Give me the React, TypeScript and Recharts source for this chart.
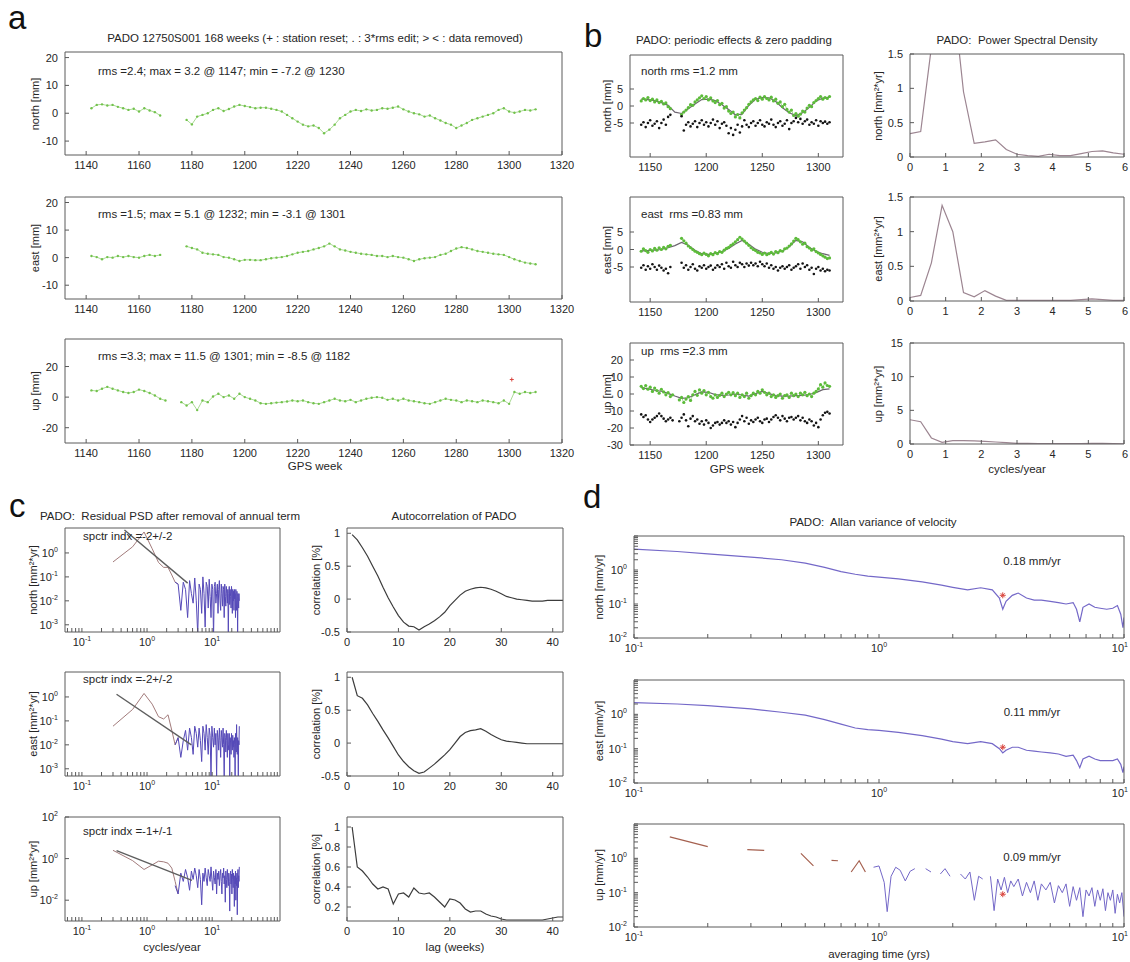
import React from 'react';
import { ComposedChart, Line, Scatter, XAxis, YAxis } from 'recharts';

// ---------- panel a: weekly residuals, every 2nd GPS week ----------
const weeks = [
  1142, 1144, 1146, 1148, 1150, 1152, 1154, 1156, 1158, 1160,
  1162, 1164, 1166, 1168, 1170, 1172, 1174, 1176, 1178, 1180,
  1182, 1184, 1186, 1188, 1190, 1192, 1194, 1196, 1198, 1200,
  1202, 1204, 1206, 1208, 1210, 1212, 1214, 1216, 1218, 1220,
  1222, 1224, 1226, 1228, 1230, 1232, 1234, 1236, 1238, 1240,
  1242, 1244, 1246, 1248, 1250, 1252, 1254, 1256, 1258, 1260,
  1262, 1264, 1266, 1268, 1270, 1272, 1274, 1276, 1278, 1280,
  1282, 1284, 1286, 1288, 1290, 1292, 1294, 1296, 1298, 1300,
  1302, 1304, 1306, 1308, 1310,
];
const northRes = [
  1.8, 3.0, 3.2, 2.8, 3.0, 2.3, 1.8, 1.2, 1.6, 0.6,
  1.8, 1.0, 0.4, -0.8, null, null, null, null, -2.4, -4.0,
  -1.2, -0.6, 0.0, 1.2, 1.8, 0.8, 1.5, 2.4, 3.0, 2.6,
  2.2, 1.8, 2.0, 2.0, 1.6, 1.2, 0.6, -0.6, -1.8, -3.0,
  -4.1, -4.7, -4.4, -5.3, -7.2, -5.9, -4.1, -1.8, -0.6, 0.6,
  1.2, 0.8, 1.4, 1.0, 1.2, 1.8, 1.6, 2.0, 2.4, 1.4,
  0.6, 0.0, -0.4, -1.2, -0.8, -1.8, -2.6, -3.5, -4.1, -5.3,
  -4.4, -3.5, -2.4, -1.8, -1.2, -0.6, 0.0, 1.2, 1.8, 0.6,
  0.2, 0.6, 1.2, 1.0, 1.4,
];
const eastRes = [
  0.6, 0.2, -0.6, 0.2, 0.0, 0.6, 0.2, 0.6, 0.2, 0.0,
  0.6, 1.0, 0.6, 1.0, null, null, null, null, 4.1, 3.5,
  3.0, 1.8, 1.4, 1.2, 1.0, 0.2, 0.0, -0.6, -1.2, -0.8,
  -0.8, -0.9, -0.9, -0.6, -0.2, 0.0, 0.2, 0.6, 1.2, 1.8,
  2.1, 2.4, 3.0, 3.5, 4.1, 5.1, 4.1, 3.0, 2.6, 2.1,
  1.8, 1.4, 1.2, 1.0, 0.6, 0.6, 0.2, 0.6, 0.2, 0.0,
  -0.6, -1.2, -0.6, -0.2, 0.0, 0.2, 1.0, 1.4, 2.4, 3.3,
  3.8, 3.5, 3.0, 2.4, 2.1, 1.8, 1.4, 1.2, 1.0, 0.2,
  -0.6, -1.2, -1.8, -2.1, -2.4,
];
const upRes = [
  4.4, 4.0, 5.5, 6.7, 5.5, 4.4, 3.3, 2.7, 3.3, 4.9,
  4.0, 2.7, 1.1, -1.1, -2.2, null, null, -3.3, -5.5, -3.3,
  -8.5, -2.2, -3.3, 0.4, 2.2, 0.0, 1.1, -1.1, 2.2, 0.0,
  -1.1, -2.2, -4.0, -4.4, -4.0, -3.6, -3.3, -2.9, -2.2, -2.7,
  -2.2, -3.3, -4.0, -4.4, -3.3, -2.2, -1.1, -2.2, -2.7, -1.8,
  -3.3, -2.2, -1.1, -0.4, 0.0, -0.4, -1.8, -1.1, -2.2, -1.1,
  -2.2, -2.7, -3.3, -4.0, -4.4, -3.3, -2.2, -1.1, -1.8, -2.2,
  -3.3, -2.2, -2.7, -3.3, -2.2, -2.7, -3.3, -4.0, -2.2, -4.4,
  3.3, 2.2, 3.3, 2.7, 3.3,
];
const resetWeek = [1301];
const resetUp = [11.5];

// ---------- panel b: periodic fit, filtered data, residuals, PSD ----------
const modelWeeks = [
  1142, 1148, 1154, 1160, 1166, 1172, 1178, 1184, 1190, 1196,
  1202, 1208, 1214, 1220, 1226, 1232, 1238, 1244, 1250, 1256,
  1262, 1268, 1274, 1280, 1286, 1292, 1298, 1304, 1310,
];
const northModel = [2.0, 1.9, 1.6, 1.0, 0.2, -1.8, -2.2, -0.8, 0.6, 1.9, 2.0, 1.6, 0.4, -1.0, -2.6, -2.4, 0.2, 2.0, 2.5, 2.4, 1.3, -0.5, -2.0, -2.8, -2.0, -0.4, 1.5, 2.3, 2.6];
const eastModel = [-0.4, -0.3, -0.2, 0.0, 0.5, 1.1, 2.0, 1.2, -0.2, -1.2, -1.4, -1.1, -0.6, 0.3, 1.6, 2.6, 1.5, 0.1, -0.8, -1.2, -1.0, -0.4, 0.8, 2.6, 2.2, 0.6, -0.5, -1.2, -1.7];
const upModel = [3.8, 3.0, 2.2, 1.6, 0.4, -1.2, -2.6, -2.2, -0.4, 1.2, 1.0, -0.4, -0.8, -0.6, 0.0, -0.6, -1.2, 0.2, 1.5, 0.2, -0.9, -1.2, -1.2, -1.0, -0.8, -0.3, 0.8, 2.6, 3.0];

const northFilt = [
  1.5, 2.2, 1.8, 2.5, 1.6, 2.0, 1.2, 1.8, 1.0, 1.4,
  0.6, 0.9, -0.2, -0.8, null, null, null, null, -2.5, -1.8,
  -1.2, -0.5, 0.4, 0.2, 1.2, 1.8, 2.4, 3.0, 2.2, 2.8,
  1.8, 2.4, 1.5, 1.0, 1.6, 0.4, 0.8, -0.6, -0.2, -1.5,
  -2.2, -1.8, -3.2, -2.5, -3.5, -2.0, -1.2, -0.5, 0.5, 1.2,
  1.8, 2.2, 1.6, 2.6, 2.0, 2.8, 2.2, 1.8, 2.6, 1.5,
  2.0, 0.8, 1.2, -0.2, 0.5, -1.0, -1.8, -1.2, -2.8, -2.2,
  -3.0, -2.4, -1.5, -1.8, -0.6, 0.2, -0.2, 1.0, 1.6, 2.2,
  2.8, 2.0, 2.5, 2.2, 2.8,
];
const eastFilt = [
  -0.5, 0.2, -0.3, -0.8, 0.0, -0.4, 0.3, -0.2, 0.5, 0.0,
  0.6, 0.2, 0.9, 1.2, null, null, null, null, 3.2, 2.5,
  1.8, 1.0, 0.5, 0.0, -0.5, -0.8, -1.2, -1.5, -1.0, -1.4,
  -1.8, -1.2, -1.5, -0.9, -1.2, -0.6, -0.8, -0.2, 0.3, 0.6,
  1.2, 1.6, 2.2, 2.8, 3.5, 3.0, 2.4, 1.8, 1.2, 0.5,
  0.0, -0.3, -0.8, -1.0, -1.4, -1.0, -1.5, -1.2, -0.8, -1.3,
  -0.6, -0.9, -0.3, -0.5, 0.2, 0.4, 1.0, 1.6, 2.4, 3.2,
  2.8, 2.2, 1.5, 1.8, 0.8, 0.4, -0.2, 0.2, -0.6, -1.0,
  -1.4, -1.8, -2.2, -2.6, -2.4,
];
const upFilt = [
  4.5, 3.2, 5.0, 2.8, 4.0, 1.5, 3.5, 2.0, 0.5, 2.8,
  1.2, -0.5, 0.8, -1.5, -0.5, null, null, -3.5, -2.0, -5.0,
  -3.0, -1.5, -3.8, -0.5, 1.5, -0.8, 2.5, 0.5, 2.0, -0.5,
  1.0, -1.5, -2.5, -0.5, -2.0, -0.8, 0.5, -1.5, 0.0, 1.0,
  -0.5, 0.8, -1.0, 0.5, -2.0, -0.5, -1.5, 0.5, -2.5, -1.0,
  0.5, -0.5, 1.5, 0.5, 2.5, 1.0, -0.5, 0.5, -1.5, -0.5,
  -2.0, -1.0, 0.0, -2.5, -1.0, -0.5, -2.0, 0.5, -1.0, 0.0,
  -1.5, 0.5, -0.5, 1.0, -1.0, 0.0, -1.5, 0.5, 1.5, 3.0,
  5.5, 4.0, 6.5, 5.0, 4.5,
];
const northResid = [
  -5.5, -4.8, -6.2, -5.0, -4.2, -5.8, -5.2, -4.5, -6.5, -5.0,
  -4.0, -5.5, -3.2, -2.6, null, null, null, null, -3.0, -7.2,
  -5.5, -4.8, -6.0, -5.2, -4.5, -6.2, -5.0, -4.2, -5.5, -4.8,
  -6.0, -5.0, -4.0, -5.5, -4.5, -6.5, -5.2, -4.8, -5.8, -8.0,
  -6.5, -8.5, -7.0, -5.5, -7.8, -6.0, -4.2, -5.5, -6.2, -5.0,
  -4.5, -5.8, -5.0, -4.2, -5.5, -6.0, -4.8, -5.2, -4.0, -5.5,
  -6.2, -5.0, -4.5, -5.8, -5.2, -4.2, -6.8, -5.0, -4.5, -3.5,
  -4.8, -3.8, -5.2, -4.5, -4.0, -5.5, -4.8, -5.2, -4.2, -5.8,
  -4.5, -5.0, -4.6, -5.2, -4.8,
];
const eastResid = [
  -5.2, -4.5, -5.8, -4.8, -5.5, -4.2, -5.0, -5.8, -4.6, -5.2,
  -6.0, -5.5, -6.8, -5.0, null, null, null, null, -3.8, -5.2,
  -4.5, -5.8, -5.0, -4.2, -5.5, -6.0, -4.8, -5.2, -4.5, -5.5,
  -5.0, -4.6, -5.8, -5.2, -4.5, -5.0, -4.2, -5.5, -3.8, -4.8,
  -5.2, -3.5, -4.5, -5.0, -3.8, -4.2, -5.0, -4.0, -4.6, -3.8,
  -4.5, -4.0, -4.8, -3.5, -4.2, -4.8, -4.0, -5.2, -4.5, -5.5,
  -5.0, -6.0, -5.2, -4.8, -5.5, -5.0, -4.5, -5.8, -5.2, -4.8,
  -4.2, -5.5, -4.0, -5.0, -4.5, -5.8, -5.2, -7.0, -5.5, -5.0,
  -6.0, -5.5, -6.2, -5.8, -6.0,
];
const upResid = [
  -12, -13.5, -12.5, -15, -16.5, -15, -14, -13, -11.5, -13,
  -14.5, -16, -15, -14, -15.5, null, null, -16, -14, -12,
  -15.5, -19, -14.5, -13, -16, -15, -17.5, -16, -18, -15.5,
  -17, -20, -18.5, -17, -16.5, -18, -17, -15.5, -17, -16,
  -18, -16.5, -19.5, -17, -15, -13, -16, -14, -17.5, -15.5,
  -16.5, -15, -14, -16, -17, -15, -14.5, -16.5, -15, -13.5,
  -12.5, -14, -15.5, -13, -14.5, -16, -14, -13.5, -15, -14,
  -13, -15.5, -14, -16, -17, -15, -16, -18.5, -17, -19.5,
  -15, -12.5, -11, -10.5, -11.5,
];

const psdFreq = [0, 0.3, 0.6, 0.9, 1.2, 1.5, 1.8, 2.1, 2.4, 2.7, 3.0, 3.3, 3.6, 3.9, 4.2, 4.5, 4.8, 5.1, 5.4, 5.7, 6.0];
const northPsd = [0.34, 0.37, 1.6, 2.6, 2.4, 0.95, 0.2, 0.22, 0.25, 0.11, 0.04, 0.02, 0.01, 0.04, 0.02, 0.02, 0.05, 0.08, 0.09, 0.06, 0.04];
const eastPsd = [0.05, 0.08, 0.55, 1.38, 1.0, 0.12, 0.06, 0.15, 0.07, 0.01, 0.01, 0.01, 0.01, 0.01, 0.01, 0.01, 0.02, 0.03, 0.02, 0.01, 0.01];
const upPsd = [3.6, 3.3, 0.9, 0.25, 0.5, 0.5, 0.45, 0.4, 0.3, 0.2, 0.1, 0.08, 0.06, 0.05, 0.05, 0.05, 0.05, 0.1, 0.08, 0.05, 0.03];

// ---------- panel c: residual spectra and autocorrelation ----------
const specLowFreq = [0.3, 0.6, 0.9, 1.2, 1.5, 1.8, 2.1, 2.4, 2.7, 3.0];
const specHighFreq = [
  2.7, 3.0, 3.3, 3.6, 3.9, 4.2, 4.5, 4.8, 5.1, 5.4,
  5.7, 6.0, 6.3, 6.6, 6.9, 7.2, 7.5, 7.8, 8.1, 8.4,
  8.7, 9.0, 9.3, 9.6, 9.9, 10.2, 10.5, 10.8, 11.1, 11.4,
  11.7, 12.0, 12.3, 12.6, 12.9, 13.2, 13.5, 13.8, 14.1, 14.4,
  14.7, 15.0, 15.3, 15.6, 15.9, 16.2, 16.5, 16.8, 17.1, 17.4,
  17.7, 18.0, 18.3, 18.6, 18.9, 19.2, 19.5, 19.8, 20.1, 20.4,
  20.7, 21.0, 21.3, 21.6, 21.9, 22.2, 22.5, 22.8, 23.1, 23.4,
  23.7, 24.0, 24.3, 24.6, 24.9, 25.2, 25.5, 25.8, 26.1,
];
const northSpecLow = [0.42, 1.8, 7.5, 1.5, 0.4, 0.25, 0.25, 0.12, 0.06, 0.05];
const northSpecHigh = [
  0.06, 0.05, 0.004, 0.06, 0.03, 0.002, 0.07, 0.02, 0.008, 0.09,
  0.01, 0.0004, 0.05, 0.03, 0.003, 0.1, 0.02, 0.0008, 0.06, 0.04,
  0.005, 0.08, 0.015, 0.002, 0.05, 0.03, 0.0003, 0.04, 0.06, 0.008,
  0.02, 0.05, 0.003, 0.03, 0.07, 0.01, 0.004, 0.05, 0.02, 0.006,
  0.04, 0.03, 0.002, 0.05, 0.015, 0.006, 0.04, 0.02, 0.008, 0.03,
  0.0004, 0.02, 0.04, 0.007, 0.03, 0.015, 0.005, 0.04, 0.02, 0.003,
  0.03, 0.01, 0.025, 0.004, 0.03, 0.012, 0.02, 0.002, 0.03, 0.01,
  0.004, 0.025, 0.015, 0.0003, 0.02, 0.01, 0.005, 0.02, 0.01,
];
const eastSpecLow = [0.06, 0.3, 1.4, 0.5, 0.15, 0.12, 0.18, 0.04, 0.01, 0.02];
const eastSpecHigh = [
  0.01, 0.02, 0.003, 0.015, 0.04, 0.006, 0.05, 0.02, 0.004, 0.06,
  0.03, 0.008, 0.05, 0.015, 0.002, 0.06, 0.03, 0.006, 0.07, 0.02,
  0.004, 0.05, 0.025, 0.0004, 0.06, 0.02, 0.008, 0.05, 0.01, 0.03,
  0.0005, 0.04, 0.02, 0.006, 0.05, 0.015, 0.003, 0.04, 0.02, 0.008,
  0.05, 0.01, 0.0004, 0.03, 0.02, 0.005, 0.04, 0.015, 0.003, 0.03,
  0.01, 0.006, 0.03, 0.0005, 0.02, 0.012, 0.004, 0.03, 0.01, 0.006,
  0.025, 0.008, 0.015, 0.003, 0.02, 0.01, 0.0004, 0.03, 0.012, 0.005,
  0.07, 0.01, 0.004, 0.02, 0.008, 0.0003, 0.015, 0.01, 0.06,
];
const upSpecLow = [2.5, 0.8, 0.3, 0.5, 0.75, 0.7, 0.6, 0.35, 0.08, 0.02];
const upSpecHigh = [
  0.05, 0.02, 0.2, 0.08, 0.3, 0.12, 0.03, 0.25, 0.1, 0.35,
  0.15, 0.04, 0.3, 0.1, 0.006, 0.2, 0.08, 0.35, 0.12, 0.05,
  0.3, 0.15, 0.08, 0.4, 0.1, 0.03, 0.25, 0.12, 0.06, 0.3,
  0.02, 0.2, 0.1, 0.25, 0.05, 0.15, 0.3, 0.08, 0.02, 0.2,
  0.12, 0.35, 0.06, 0.15, 0.008, 0.25, 0.1, 0.04, 0.3, 0.12,
  0.05, 0.2, 0.08, 0.003, 0.15, 0.25, 0.06, 0.18, 0.02, 0.3,
  0.1, 0.04, 0.2, 0.08, 0.005, 0.15, 0.06, 0.25, 0.01, 0.12,
  0.05, 0.2, 0.002, 0.1, 0.3, 0.04, 0.15, 0.08, 0.4,
];
const northFitF = [0.45, 4.2];
const northFitV = [9, 0.055];
const eastFitF = [0.34, 4.8];
const eastFitV = [1.3, 0.01];
const upFitF = [0.34, 4.9];
const upFitV = [2.4, 0.09];

const lags = [
  1, 2, 3, 4, 5, 6, 7, 8, 9, 10, 11, 12, 13, 14, 15, 16, 17, 18, 19, 20, 21,
  22, 23, 24, 25, 26, 27, 28, 29, 30, 31, 32, 33, 34, 35, 36, 37, 38, 39, 40, 41, 42,
];
const northAcf = [0.98, 0.9, 0.78, 0.65, 0.5, 0.35, 0.18, 0.02, -0.12, -0.25, -0.35, -0.41, -0.42, -0.47, -0.42, -0.38, -0.33, -0.27, -0.2, -0.1, -0.02, 0.06, 0.12, 0.15, 0.17, 0.18, 0.17, 0.15, 0.12, 0.08, 0.04, 0.02, 0.0, -0.01, -0.02, -0.03, -0.03, -0.03, -0.02, -0.02, -0.02, -0.02];
const eastAcf = [1.0, 0.72, 0.68, 0.58, 0.45, 0.33, 0.2, 0.08, -0.05, -0.18, -0.28, -0.36, -0.42, -0.46, -0.44, -0.38, -0.32, -0.25, -0.18, -0.1, 0.0, 0.1, 0.16, 0.19, 0.2, 0.22, 0.18, 0.13, 0.09, 0.05, 0.03, 0.02, 0.01, 0.0, -0.01, -0.01, -0.01, -0.01, -0.01, -0.01, -0.01, -0.01];
const upAcf = [1.0, 0.6, 0.56, 0.5, 0.43, 0.38, 0.4, 0.38, 0.23, 0.33, 0.34, 0.3, 0.39, 0.34, 0.33, 0.34, 0.3, 0.25, 0.2, 0.28, 0.27, 0.24, 0.18, 0.15, 0.16, 0.16, 0.13, 0.11, 0.1, 0.08, 0.07, 0.07, 0.07, 0.07, 0.07, 0.07, 0.07, 0.07, 0.08, 0.09, 0.1, 0.1];

// ---------- panel d: Allan variance of velocity ----------
const avgTime = [0.1, 0.15, 0.2, 0.3, 0.4, 0.5, 0.6, 0.7, 0.8, 0.9, 1.0, 1.2, 1.5, 1.8, 2.0, 2.3, 2.6, 2.9, 3.1, 3.2, 3.3, 3.5, 3.7, 4.0, 4.3, 4.6, 5.0, 5.4, 5.8, 6.2, 6.4, 6.6, 6.8, 7.2, 7.6, 8.0, 8.5, 9.0, 9.4, 9.7, 9.9, 10];
const northAllan = [4.1, 3.5, 3.0, 2.4, 2.0, 1.6, 1.2, 0.9, 0.75, 0.66, 0.62, 0.55, 0.45, 0.36, 0.31, 0.26, 0.3, 0.26, 0.15, 0.07, 0.12, 0.18, 0.21, 0.15, 0.13, 0.13, 0.12, 0.11, 0.1, 0.11, 0.07, 0.03, 0.08, 0.1, 0.08, 0.075, 0.07, 0.075, 0.09, 0.05, 0.02, 0.04];
const eastAllan = [2.2, 2.0, 1.8, 1.45, 1.15, 0.95, 0.7, 0.52, 0.4, 0.36, 0.34, 0.3, 0.24, 0.19, 0.16, 0.14, 0.16, 0.14, 0.1, 0.075, 0.09, 0.11, 0.11, 0.09, 0.085, 0.08, 0.075, 0.07, 0.06, 0.065, 0.045, 0.028, 0.05, 0.06, 0.05, 0.045, 0.045, 0.045, 0.05, 0.035, 0.02, 0.03];
const upLowTime = [0.14, 0.2, 0.25, 0.29, 0.34, 0.4, 0.48, 0.54, 0.6, 0.64, 0.68, 0.73, 0.77, 0.83, 0.88];
const upLowAllan = [4.2, 2.2, null, 1.8, 1.7, null, 1.4, 0.6, null, 0.87, 0.85, null, 0.4, 0.85, 0.4];
const upHighTime = [
  0.95, 1.0, 1.05, 1.08, 1.12, 1.17, 1.22, 1.28, 1.34, 1.4, 1.48, 1.55, 1.63, 1.7, 1.78, 1.86, 1.95,
  2.05, 2.15, 2.25, 2.35, 2.45, 2.55, 2.65, 2.75, 2.85, 2.95, 3.05, 3.15, 3.25, 3.35, 3.45, 3.55,
  3.7, 3.85, 4.0, 4.15, 4.3, 4.45, 4.6, 4.8, 5.0, 5.2, 5.4, 5.6, 5.8, 6.0, 6.2, 6.4, 6.6, 6.8,
  7.0, 7.2, 7.4, 7.6, 7.8, 8.0, 8.2, 8.4, 8.6, 8.8, 9.0, 9.2, 9.4, 9.6, 9.8, 10.0,
];
const upHighAllan = [
  0.55, 0.6, 0.2, 0.028, 0.3, 0.55, 0.45, 0.22, 0.42, 0.5, null, 0.5, 0.4, null, 0.35, 0.5, 0.3,
  null, 0.35, 0.25, 0.4, 0.06, 0.3, 0.25, null, 0.3, 0.03, 0.25, 0.12, 0.28, 0.1, 0.22, 0.15,
  0.25, 0.08, 0.2, 0.1, 0.22, 0.06, 0.18, 0.12, 0.2, 0.05, 0.16, 0.1, 0.18, 0.04, 0.15, 0.06, 0.14, 0.02,
  0.12, 0.08, 0.14, 0.04, 0.12, 0.06, 0.13, 0.03, 0.1, 0.06, 0.12, 0.025, 0.09, 0.05, 0.1, 0.02,
];
const rateTime = [3.2];
const northRate = [0.18];
const eastRate = [0.11];
const upRate = [0.09];

// log-axis tick marks, and the subset of them that carry a label
const specTicksX = [0.06, 0.07, 0.08, 0.09, 0.1, 0.2, 0.3, 0.4, 0.5, 0.6, 0.7, 0.8, 0.9, 1, 2, 3, 4, 5, 6, 7, 8, 9, 10, 20, 30, 40, 50, 60, 70, 80, 90, 100];
const specLabelsX = [0.1, 1, 10];
const allanTicksX = [0.1, 0.2, 0.3, 0.4, 0.5, 0.6, 0.7, 0.8, 0.9, 1, 2, 3, 4, 5, 6, 7, 8, 9, 10];
const allanLabelsX = [0.1, 1, 10];
const allanTicksY = [0.01, 0.02, 0.03, 0.04, 0.05, 0.06, 0.07, 0.08, 0.09, 0.1, 0.2, 0.3, 0.4, 0.5, 0.6, 0.7, 0.8, 0.9, 1, 2, 3, 4, 5, 6, 7, 8, 9, 10];
const allanLabelsY = [0.01, 0.1, 1];

// ---------- drawing ----------
const FONT = '"Liberation Sans", Arial, Helvetica, sans-serif';
const TXT = '#262626';
const FRAME = '#5a5a5a';
const YW = 44;
const XH = 24;
const MT = 10;
const MR = 18;
const PAGE_W = 1130;

type Pt = { x: number; y: number | null };
const zip = (xs: number[], ys: (number | null)[]): Pt[] => xs.map((x, i) => ({ x, y: ys[i] ?? null }));

type Series = {
  data: Pt[];
  color: string;
  width?: number;
  opacity?: number;
  dot?: number;
  noLine?: boolean;
  mark?: 'plus' | 'star';
};

const hasLabel = (v: number, labels?: number[]) => !labels || labels.some((l) => Math.abs(l - v) < 1e-9 * Math.max(1, Math.abs(l)));

function TickText({ x, y, dy, anchor, v, log, labels }: any) {
  if (!hasLabel(v, labels)) return <g />;
  return (
    <text x={x} y={y} dy={dy} textAnchor={anchor} fontFamily={FONT} fontSize={11} fill={TXT}>
      {log ? (
        <>
          <tspan>10</tspan>
          <tspan dy={-5} fontSize={7}>{Math.round(Math.log10(v))}</tspan>
        </>
      ) : (
        String(v)
      )}
    </text>
  );
}

function Mark({ cx, cy, kind, color }: any) {
  if (cx == null || cy == null) return null;
  if (kind === 'plus') {
    return (
      <g stroke={color} strokeWidth={1}>
        <line x1={cx - 2} y1={cy} x2={cx + 2} y2={cy} />
        <line x1={cx} y1={cy - 2} x2={cx} y2={cy + 2} />
      </g>
    );
  }
  return (
    <g stroke={color} strokeWidth={1}>
      <line x1={cx - 3} y1={cy} x2={cx + 3} y2={cy} />
      <line x1={cx} y1={cy - 3} x2={cx} y2={cy + 3} />
      <line x1={cx - 2} y1={cy - 2} x2={cx + 2} y2={cy + 2} />
      <line x1={cx - 2} y1={cy + 2} x2={cx + 2} y2={cy - 2} />
    </g>
  );
}

interface PlotProps {
  box: [number, number, number, number];
  xDomain: [number, number];
  yDomain: [number, number];
  xTicks: number[];
  yTicks: number[];
  xLabels?: number[];
  yLabels?: number[];
  xLog?: boolean;
  yLog?: boolean;
  series: Series[];
}

function Plot({ box, xDomain, yDomain, xTicks, yTicks, xLabels, yLabels, xLog, yLog, series }: PlotProps) {
  const [l, t, r, b] = box;
  const xs = xLog ? 'log' : 'linear';
  const ys = yLog ? 'log' : 'linear';
  const chartLeft = l - YW;
  // keep the last x label inside the page when the plot reaches the right edge
  const xTick = (p: any) => {
    const nearEdge = chartLeft + p.x + 12 > PAGE_W;
    return (
      <TickText x={nearEdge ? p.x + 4 : p.x} y={p.y} dy={9} anchor={nearEdge ? 'end' : 'middle'}
        v={p.payload.value} log={xLog} labels={xLabels} />
    );
  };
  return (
    <div style={{ position: 'absolute', left: chartLeft, top: t - MT }}>
      <ComposedChart
        width={YW + (r - l) + MR}
        height={MT + (b - t) + XH}
        margin={{ top: MT, right: MR, bottom: 0, left: 0 }}
      >
        <XAxis
          xAxisId="x" dataKey="x" type="number" scale={xs} domain={xDomain} allowDataOverflow
          ticks={xTicks} interval={0} height={XH} stroke={FRAME} tickSize={-4} tickMargin={9} tick={xTick}
        />
        <XAxis
          xAxisId="t" dataKey="x" type="number" scale={xs} domain={xDomain} allowDataOverflow
          ticks={xTicks} interval={0} orientation="top" mirror stroke={FRAME} tickSize={4} tick={false}
        />
        <YAxis
          yAxisId="y" type="number" scale={ys} domain={yDomain} allowDataOverflow
          ticks={yTicks} interval={0} width={YW} stroke={FRAME} tickSize={-4} tickMargin={11}
          tick={(p: any) => <TickText x={p.x} y={p.y} dy={4} anchor="end" v={p.payload.value} log={yLog} labels={yLabels} />}
        />
        <YAxis
          yAxisId="r" type="number" scale={ys} domain={yDomain} allowDataOverflow
          ticks={yTicks} interval={0} orientation="right" mirror stroke={FRAME} tickSize={4} tick={false}
        />
        {series.map((s, i) =>
          s.mark ? (
            <Scatter
              key={i} xAxisId="x" yAxisId="y" data={s.data} dataKey="y" isAnimationActive={false}
              shape={(p: any) => <Mark cx={p.cx} cy={p.cy} kind={s.mark} color={s.color} />}
            />
          ) : (
            <Line
              key={i} xAxisId="x" yAxisId="y" data={s.data} dataKey="y" type="linear"
              stroke={s.noLine ? 'none' : s.color} strokeWidth={s.width ?? 1} strokeOpacity={s.opacity ?? 1}
              dot={s.dot ? { r: s.dot, fill: s.color, stroke: 'none', strokeWidth: 0 } : false}
              activeDot={false} isAnimationActive={false}
            />
          ),
        )}
      </ComposedChart>
    </div>
  );
}

function Txt({ x, y, children, anchor = 'middle', rotate = false, size = 11.5 }: any) {
  const tx = anchor === 'middle' ? '-50%' : '0';
  return (
    <div
      style={{
        position: 'absolute', left: x, top: y, transform: `translate(${tx}, -50%)${rotate ? ' rotate(-90deg)' : ''}`,
        whiteSpace: 'pre', fontSize: size, lineHeight: 1, color: TXT, fontFamily: FONT,
      }}
    >
      {children}
    </div>
  );
}

function Letter({ x, y, children }: any) {
  return (
    <div style={{ position: 'absolute', left: x, top: y, fontSize: 33, lineHeight: 1, color: '#111', fontFamily: FONT }}>
      {children}
    </div>
  );
}

const GREEN_A = '#72c24c';
const GREEN_B = '#5cbb3a';
const BLACK = '#141414';
const MODEL = '#6d6570';
const PSD = '#9c8591';
const SPEC_LOW = '#a27b7b';
const SPEC_HIGH = '#5549b8';
const FIT = '#5e5e5e';
const ACF = '#3c3c3c';
const ALLAN = '#7468c8';
const ALLAN_LOW = '#a5604f';
const RED = '#d9463f';

const aX = { xDomain: [1132, 1320] as [number, number], xTicks: [1140, 1160, 1180, 1200, 1220, 1240, 1260, 1280, 1300, 1320] };
const bX = { xDomain: [1132, 1322] as [number, number], xTicks: [1150, 1200, 1250, 1300] };
const psdX = { xDomain: [0, 6] as [number, number], xTicks: [0, 1, 2, 3, 4, 5, 6] };
const specX = { xDomain: [0.055, 110] as [number, number], xTicks: specTicksX, xLabels: specLabelsX, xLog: true };
const acfX = { xDomain: [0, 42] as [number, number], xTicks: [0, 10, 20, 30, 40] };
const allanX = { xDomain: [0.1, 10] as [number, number], xTicks: allanTicksX, xLabels: allanLabelsX, xLog: true };
const allanY = { yDomain: [0.01, 10] as [number, number], yTicks: allanTicksY, yLabels: allanLabelsY, yLog: true };

const aSeries = (vals: (number | null)[]): Series => ({ data: zip(weeks, vals), color: GREEN_A, width: 1, opacity: 0.6, dot: 1.2 });

const bSeries = (filt: (number | null)[], resid: (number | null)[], model: number[]): Series[] => [
  { data: zip(weeks, filt), color: GREEN_B, width: 1, opacity: 0.55, dot: 1.6 },
  { data: zip(weeks, resid), color: BLACK, noLine: true, dot: 1.3 },
  { data: zip(modelWeeks, model), color: MODEL, width: 1.2 },
];

const specSeries = (low: number[], high: number[], fitF: number[], fitV: number[]): Series[] => [
  { data: zip(specLowFreq, low), color: SPEC_LOW, width: 1 },
  { data: zip(specHighFreq, high), color: SPEC_HIGH, width: 1 },
  { data: zip(fitF, fitV), color: FIT, width: 1.4 },
];

export default function App() {
  return (
    <div style={{ position: 'absolute', left: 0, top: 0, width: 1130, height: 962, background: '#fff', overflow: 'hidden', fontFamily: FONT }}>
      {/* panel a */}
      <Plot box={[65, 52, 562, 155]} {...aX} yDomain={[-15, 22]} yTicks={[-10, 0, 10, 20]} series={[aSeries(northRes)]} />
      <Plot box={[65, 197, 562, 299]} {...aX} yDomain={[-15, 22]} yTicks={[-10, 0, 10, 20]} series={[aSeries(eastRes)]} />
      <Plot box={[65, 339, 562, 443]} {...aX} yDomain={[-30, 38]} yTicks={[-20, 0, 20]}
        series={[aSeries(upRes), { data: zip(resetWeek, resetUp), color: RED, mark: 'plus' }]} />

      {/* panel b */}
      <Plot box={[630, 55, 843, 157]} {...bX} yDomain={[-15, 15]} yTicks={[-5, 0, 5]} series={bSeries(northFilt, northResid, northModel)} />
      <Plot box={[630, 197, 843, 302]} {...bX} yDomain={[-15, 15]} yTicks={[-5, 0, 5]} series={bSeries(eastFilt, eastResid, eastModel)} />
      <Plot box={[630, 343, 843, 445]} {...bX} yDomain={[-30, 30]} yTicks={[-30, -20, -10, 0, 10, 20]} series={bSeries(upFilt, upResid, upModel)} />
      <Plot box={[910, 54, 1124, 157]} {...psdX} yDomain={[0, 1.5]} yTicks={[0, 0.5, 1, 1.5]}
        series={[{ data: zip(psdFreq, northPsd), color: PSD, width: 1.2 }]} />
      <Plot box={[910, 197, 1124, 301]} {...psdX} yDomain={[0, 1.5]} yTicks={[0, 0.5, 1, 1.5]}
        series={[{ data: zip(psdFreq, eastPsd), color: PSD, width: 1.2 }]} />
      <Plot box={[910, 343, 1124, 444]} {...psdX} yDomain={[0, 15]} yTicks={[0, 5, 10, 15]}
        series={[{ data: zip(psdFreq, upPsd), color: PSD, width: 1.2 }]} />

      {/* panel c */}
      <Plot box={[65, 528, 280, 632]} {...specX} yDomain={[0.0005, 11]} yTicks={[0.001, 0.01, 0.1, 1]} yLog
        series={specSeries(northSpecLow, northSpecHigh, northFitF, northFitV)} />
      <Plot box={[65, 672, 280, 776]} {...specX} yDomain={[0.0005, 11]} yTicks={[0.001, 0.01, 0.1, 1]} yLog
        series={specSeries(eastSpecLow, eastSpecHigh, eastFitF, eastFitV)} />
      <Plot box={[65, 817, 280, 921]} {...specX} yDomain={[0.001, 100]} yTicks={[0.01, 1, 100]} yLog
        series={specSeries(upSpecLow, upSpecHigh, upFitF, upFitV)} />
      <Plot box={[347, 528, 563, 632]} {...acfX} yDomain={[-0.5, 1.08]} yTicks={[-0.5, 0, 0.5, 1]}
        series={[{ data: zip(lags, northAcf), color: ACF, width: 1.2 }]} />
      <Plot box={[347, 672, 563, 776]} {...acfX} yDomain={[-0.5, 1.08]} yTicks={[-0.5, 0, 0.5, 1]}
        series={[{ data: zip(lags, eastAcf), color: ACF, width: 1.2 }]} />
      <Plot box={[347, 817, 563, 921]} {...acfX} yDomain={[0.06, 1.1]} yTicks={[0.2, 0.4, 0.6, 0.8, 1]}
        series={[{ data: zip(lags, upAcf), color: ACF, width: 1.2 }]} />

      {/* panel d */}
      <Plot box={[634, 536, 1124, 638]} {...allanX} {...allanY}
        series={[{ data: zip(avgTime, northAllan), color: ALLAN, width: 1.2 }, { data: zip(rateTime, northRate), color: RED, mark: 'star' }]} />
      <Plot box={[634, 680, 1124, 783]} {...allanX} {...allanY}
        series={[{ data: zip(avgTime, eastAllan), color: ALLAN, width: 1.2 }, { data: zip(rateTime, eastRate), color: RED, mark: 'star' }]} />
      <Plot box={[634, 824, 1124, 927]} {...allanX} {...allanY}
        series={[
          { data: zip(upLowTime, upLowAllan), color: ALLAN_LOW, width: 1.2 },
          { data: zip(upHighTime, upHighAllan), color: ALLAN, width: 1 },
          { data: zip(rateTime, upRate), color: RED, mark: 'star' },
        ]} />

      {/* letters and titles */}
      <Letter x={8} y={1}>a</Letter>
      <Letter x={584} y={19}>b</Letter>
      <Letter x={9} y={489}>c</Letter>
      <Letter x={583} y={480}>d</Letter>

      <Txt x={315} y={39}>PADO 12750S001 168 weeks (+ : station reset; . : 3*rms edit; &gt; &lt; : data removed)</Txt>
      <Txt x={734} y={41}>PADO: periodic effects &amp; zero padding</Txt>
      <Txt x={1017} y={41}>PADO:  Power Spectral Density</Txt>
      <Txt x={170} y={517}>PADO:  Residual PSD after removal of annual term</Txt>
      <Txt x={454} y={517}>Autocorrelation of PADO</Txt>
      <Txt x={873} y={523}>PADO:  Allan variance of velocity</Txt>

      {/* annotations */}
      <Txt x={98} y={72} anchor="start">rms =2.4; max = 3.2 @ 1147; min = -7.2 @ 1230</Txt>
      <Txt x={98} y={215} anchor="start">rms =1.5; max = 5.1 @ 1232; min = -3.1 @ 1301</Txt>
      <Txt x={98} y={357} anchor="start">rms =3.3; max = 11.5 @ 1301; min = -8.5 @ 1182</Txt>
      <Txt x={641} y={72} anchor="start">north rms =1.2 mm</Txt>
      <Txt x={641} y={215} anchor="start">east  rms =0.83 mm</Txt>
      <Txt x={641} y={352} anchor="start">up  rms =2.3 mm</Txt>
      <Txt x={83} y={537} anchor="start">spctr indx =-2+/-2</Txt>
      <Txt x={83} y={680} anchor="start">spctr indx =-2+/-2</Txt>
      <Txt x={83} y={832} anchor="start">spctr indx =-1+/-1</Txt>
      <Txt x={1032} y={562}>0.18 mm/yr</Txt>
      <Txt x={1032} y={713}>0.11 mm/yr</Txt>
      <Txt x={1032} y={858}>0.09 mm/yr</Txt>

      {/* axis labels */}
      <Txt x={315} y={467}>GPS week</Txt>
      <Txt x={737} y={470}>GPS week</Txt>
      <Txt x={1017} y={470}>cycles/year</Txt>
      <Txt x={172} y={948}>cycles/year</Txt>
      <Txt x={455} y={948}>lag (weeks)</Txt>
      <Txt x={879} y={955}>averaging time (yrs)</Txt>

      <Txt x={35} y={104} rotate size={11}>north [mm]</Txt>
      <Txt x={35} y={248} rotate size={11}>east [mm]</Txt>
      <Txt x={35} y={391} rotate size={11}>up [mm]</Txt>
      <Txt x={607} y={106} rotate size={11}>north [mm]</Txt>
      <Txt x={607} y={250} rotate size={11}>east [mm]</Txt>
      <Txt x={607} y={394} rotate size={11}>up [mm]</Txt>
      <Txt x={878} y={106} rotate size={11}>north [mm²*yr]</Txt>
      <Txt x={878} y={249} rotate size={11}>east [mm²*yr]</Txt>
      <Txt x={878} y={394} rotate size={11}>up [mm²*yr]</Txt>
      <Txt x={33} y={580} rotate size={11}>north [mm²*yr]</Txt>
      <Txt x={33} y={724} rotate size={11}>east [mm²*yr]</Txt>
      <Txt x={33} y={869} rotate size={11}>up [mm²*yr]</Txt>
      <Txt x={316} y={580} rotate size={11}>correlation [%]</Txt>
      <Txt x={316} y={724} rotate size={11}>correlation [%]</Txt>
      <Txt x={316} y={869} rotate size={11}>correlation [%]</Txt>
      <Txt x={599} y={587} rotate size={11}>north [mm/yr]</Txt>
      <Txt x={599} y={731} rotate size={11}>east [mm/yr]</Txt>
      <Txt x={599} y={875} rotate size={11}>up [mm/yr]</Txt>
    </div>
  );
}
